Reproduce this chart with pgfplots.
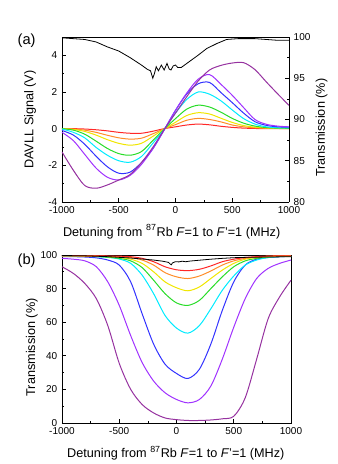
\documentclass[border=0pt]{standalone}
\usepackage{pgfplots}
\pgfplotsset{compat=1.18}
\usepackage{pgfplotstable}
\usepackage{fontspec}
\setmainfont{Liberation Sans}

\definecolor{cred}{RGB}{255,40,40}
\definecolor{corange}{RGB}{255,140,40}
\definecolor{cyellow}{RGB}{240,230,0}
\definecolor{cgreen}{RGB}{40,220,40}
\definecolor{ccyan}{RGB}{0,235,255}
\definecolor{cblue}{RGB}{50,50,255}
\definecolor{cviolet}{RGB}{160,50,255}
\definecolor{cpurple}{RGB}{150,50,160}

% DAVLL signals (V)
\pgfplotstableread{
d     r     o     y     g     c     b     v     p
-1000 0     0     0     0     -0.02 -0.10 -0.20 -1.27
-900  0     -0.02 -0.04 -0.08 -0.20 -0.35 -0.65 -2.27
-800  -0.02 -0.08 -0.15 -0.30 -0.50 -0.85 -1.40 -3.10
-700  -0.06 -0.20 -0.35 -0.68 -1.02 -1.50 -2.15 -3.25
-600  -0.12 -0.36 -0.60 -1.08 -1.45 -2.08 -2.65 -3.07
-500  -0.20 -0.50 -0.80 -1.36 -1.75 -2.43 -2.80 -2.80
-400  -0.25 -0.57 -0.90 -1.45 -1.83 -2.37 -2.55 -2.50
-300  -0.25 -0.52 -0.80 -1.25 -1.52 -1.85 -1.95 -1.85
-200  -0.14 -0.28 -0.42 -0.65 -0.80 -1.10 -1.10 -1.02
-100  0     -0.01 -0.02 -0.03 -0.04 -0.07 -0.07 -0.05
0     0.10  0.22  0.35  0.55  0.85  1.00  1.00  0.85
100   0.20  0.46  0.72  1.07  1.60  1.90  1.95  1.75
200   0.25  0.56  0.87  1.28  2.00  2.45  2.70  2.60
300   0.21  0.50  0.80  1.18  1.88  2.52  2.95  3.20
400   0.13  0.37  0.57  0.90  1.52  1.97  2.42  3.45
500   0.07  0.20  0.34  0.56  1.02  1.42  1.82  3.58
600   0.03  0.10  0.17  0.30  0.55  0.85  1.15  3.60
700   0.01  0.05  0.08  0.14  0.25  0.38  0.50  3.22
800   0     0.02  0.04  0.06  0.10  0.18  0.24  2.55
900   0     0.01  0.02  0.03  0.05  0.10  0.14  1.90
1000  0     0     0.01  0.02  0.04  0.08  0.10  1.27
}\davll

% transmission (%)
\pgfplotstableread{
d     r     o     y     g     c     b     v     p
-1000 99.6  99.5  99.5  99.5  99.5  99.0  98.0  93.0
-900  99.6  99.5  99.5  99.5  99.5  99.0  97.5  89.0
-800  99.5  99.5  99.4  99.3  99.2  98.8  96.5  83.0
-700  99.5  99.4  99.3  99.1  99.0  98.3  93.0  74.0
-600  99.4  99.2  99.0  98.7  98.6  97.0  84.0  58.0
-500  99.3  99.0  98.6  98.0  97.6  94.0  70.0  35.5
-400  99.0  98.5  97.5  96.5  95.0  84.0  52.0  20.0
-300  98.0  97.0  95.0  92.5  88.0  65.0  36.0  11.0
-200  96.0  94.0  90.0  85.0  77.0  47.0  25.0  6.0
-100  93.0  89.5  84.0  77.0  64.0  35.0  18.0  3.0
0     91.2  87.0  80.5  71.5  56.5  29.5  14.0  2.0
100   90.7  86.0  78.7  70.0  53.5  26.5  12.0  1.5
200   91.5  87.5  81.0  73.0  58.0  32.0  14.0  1.5
300   93.5  90.5  86.0  80.0  68.0  47.0  22.0  1.8
400   96.0  94.0  91.0  87.0  79.0  67.0  38.0  2.5
500   97.5  96.5  95.0  93.0  87.5  84.0  57.0  4.0
600   98.5  98.0  97.5  96.5  94.0  94.0  74.0  15.0
700   99.0  99.0  98.5  98.0  97.0  97.5  86.0  38.0
800   99.3  99.3  99.0  98.8  98.5  98.5  92.0  62.0
900   99.5  99.5  99.3  99.2  99.0  99.0  95.0  75.0
1000  99.5  99.5  99.5  99.3  99.2  99.2  97.0  85.0
}\trans

\pgfplotsset{
  panel/.style={
    scale only axis, anchor=south west,
    xmin=-1000, xmax=1000,
    xtick={-1000,-500,0,500,1000}, minor x tick num=1,
    xtick pos=bottom,
    tick align=inside, major tick length=3pt, minor tick length=1.7pt,
    every tick/.style={black, line width=0.5pt},
    axis line style={line width=0.6pt},
    tick label style={font=\fontsize{7.5}{9}\selectfont},
    label style={font=\fontsize{9.5}{11}\selectfont},
    /pgf/number format/assume math mode=true,
    /pgf/number format/1000 sep={},
  },
  sig/.style={line width=0.75pt, smooth, no markers},
}

\begin{document}
\begin{tikzpicture}
\path[use as bounding box] (0,0) rectangle (252.75pt,348pt);

% (a) DAVLL signal
\begin{axis}[panel,
  at={(46.5pt,196.5pt)}, width=170.25pt, height=123.75pt,
  axis y line*=left,
  ymin=-4, ymax=5, ytick={-4,-2,0,2,4}, minor y tick num=1,
  ylabel={DAVLL Signal (V)},
  ylabel style={at={(axis description cs:-0.141,0.5)}, anchor=center},
  xlabel={Detuning from \textsuperscript{87}Rb \textit{F}=1 to \textit{F}'=1 (MHz)},
  xlabel style={at={(axis description cs:0.483,-0.18)}, anchor=center},
]
\addplot[sig, cred] table[x=d, y=r] {\davll};
\addplot[sig, corange] table[x=d, y=o] {\davll};
\addplot[sig, cyellow] table[x=d, y=y] {\davll};
\addplot[sig, cgreen] table[x=d, y=g] {\davll};
\addplot[sig, ccyan] table[x=d, y=c] {\davll};
\addplot[sig, cblue] table[x=d, y=b] {\davll};
\addplot[sig, cviolet] table[x=d, y=v] {\davll};
\addplot[sig, cpurple] table[x=d, y=p] {\davll};
\end{axis}

\begin{axis}[panel,
  at={(46.5pt,196.5pt)}, width=170.25pt, height=123.75pt,
  axis x line=none, axis y line*=right,
  ymin=80, ymax=100, ytick={80,85,90,95,100}, minor y tick num=1,
  ylabel={Transmission (\%)},
  ylabel style={at={(axis description cs:1.144,0.45)}, anchor=center},
]
\addplot[black, line width=0.6pt, no markers] coordinates {
(-1000,99.9) (-900,99.8) (-800,99.7) (-700,99.4) (-600,98.8) (-500,98.3)
(-400,97.5) (-300,96.6) (-250,96.1) (-220,95.9) (-200,95.0) (-185,95.6)
(-170,96.4) (-150,95.9) (-125,96.6) (-100,96.0) (-75,96.8) (-55,96.1)
(-40,96.0) (-20,96.5) (0,96.6) (20,96.3) (50,96.3) (100,96.8) (150,97.3)
(200,97.8) (275,98.6) (363,99.2) (450,99.7) (550,99.8) (700,99.8)
(800,99.7) (900,99.6) (1000,99.6)};
\end{axis}

% (b) transmission
\begin{axis}[panel,
  at={(46.5pt,30.75pt)}, width=171.75pt, height=126pt,
  ytick pos=left,
  ymin=0, ymax=100, ytick={0,20,40,60,80,100}, minor y tick num=1,
  ylabel={Transmission (\%)},
  ylabel style={at={(axis description cs:-0.132,0.45)}, anchor=center},
  xlabel={Detuning from \textsuperscript{87}Rb \textit{F}=1 to \textit{F}'=1 (MHz)},
  xlabel style={at={(axis description cs:0.497,-0.18)}, anchor=center},
]
\addplot[sig, cpurple] table[x=d, y=p] {\trans};
\addplot[sig, cviolet] table[x=d, y=v] {\trans};
\addplot[sig, cblue] table[x=d, y=b] {\trans};
\addplot[sig, ccyan] table[x=d, y=c] {\trans};
\addplot[sig, cgreen] table[x=d, y=g] {\trans};
\addplot[sig, cyellow] table[x=d, y=y] {\trans};
\addplot[sig, corange] table[x=d, y=o] {\trans};
\addplot[sig, cred] table[x=d, y=r] {\trans};
\addplot[black, line width=0.6pt, no markers] coordinates {
(-1000,99.7) (-800,99.5) (-600,99.0) (-400,98.2) (-300,97.6) (-200,97.0)
(-120,96.3) (-70,95.6) (-55,94.6) (-45,94.2) (-35,95.3) (-10,96.0)
(20,95.9) (50,96.3) (80,96.0) (120,96.4) (200,96.9) (300,97.5)
(400,98.0) (500,98.4) (600,98.6) (800,98.8) (1000,99.0)};
\end{axis}

\node[font=\fontsize{11}{13}\selectfont] at (20pt,317.4pt) {(a)};
\node[font=\fontsize{11}{13}\selectfont] at (20pt,152.4pt) {(b)};
\end{tikzpicture}
\end{document}
